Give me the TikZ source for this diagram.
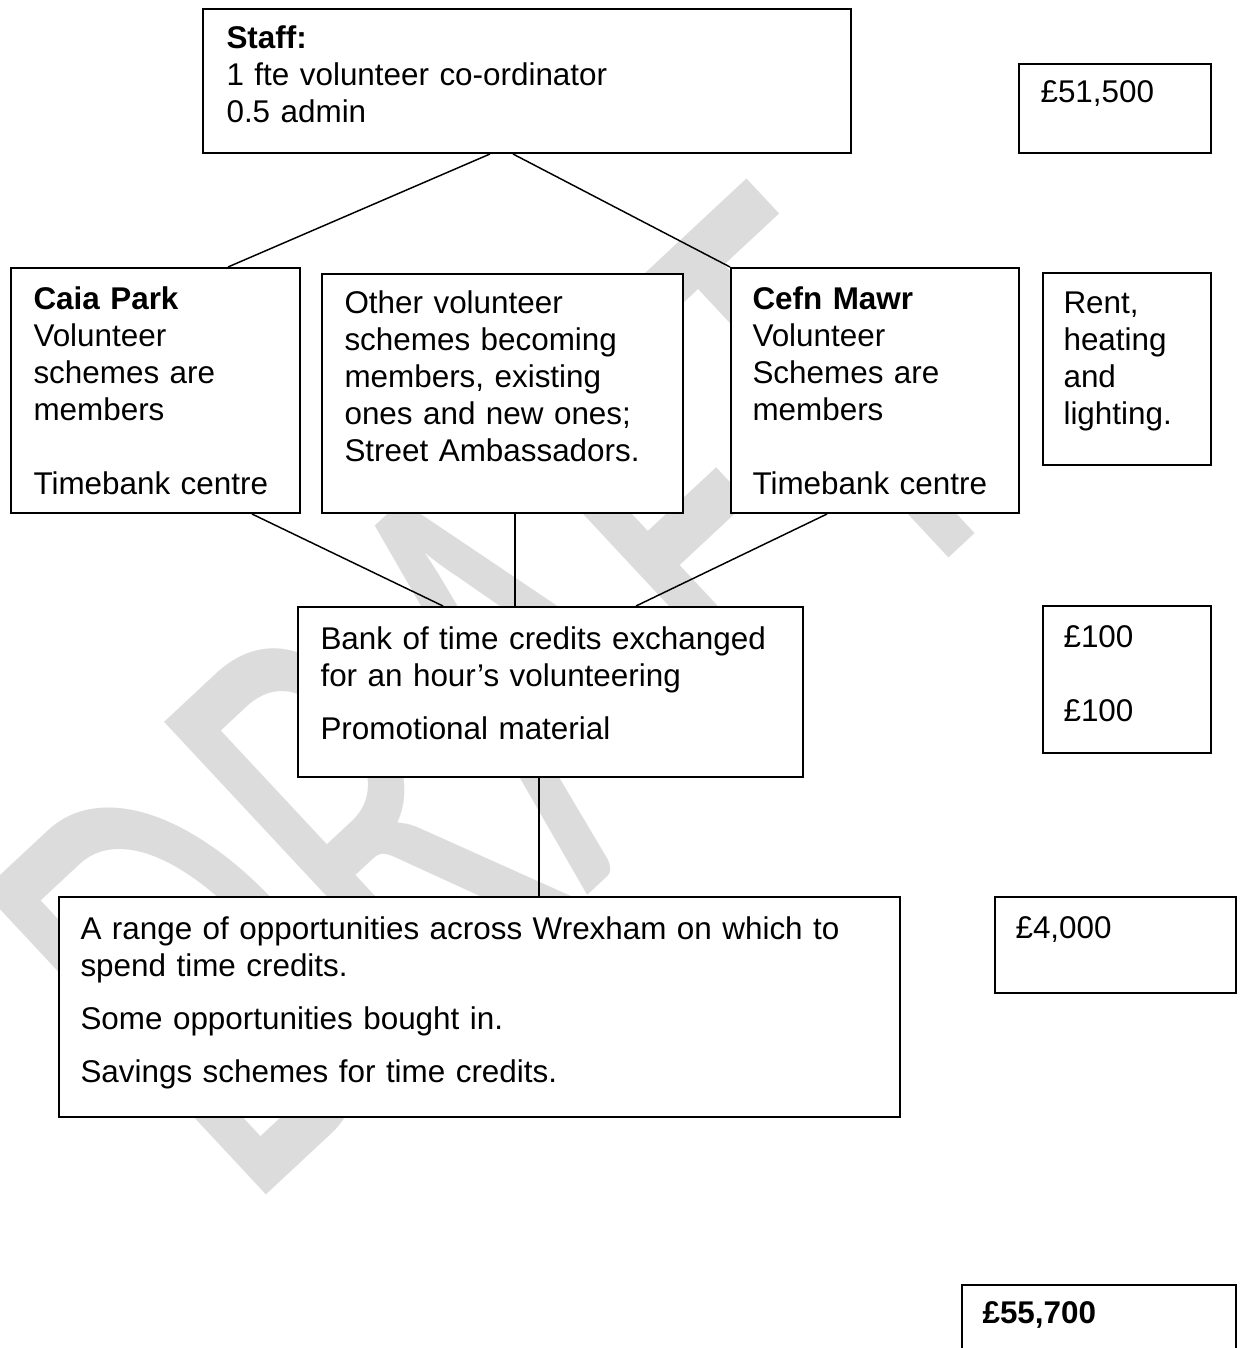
\documentclass[tikz,border=0pt]{standalone}
\usepackage{graphicx}
\usepackage{fontspec}
\setmainfont{Liberation Sans}
\newfontfamily\wmfont{Carlito}
\usetikzlibrary{fit}
\definecolor{wmgray}{RGB}{220,220,220}
\begin{document}
\begin{tikzpicture}[x=0.375pt,y=-0.375pt,
  box/.style={draw=black,line width=0.75pt,fill=white,rectangle,inner sep=0pt},
  txt/.style={anchor=base west,inner sep=0pt,align=left,text width=#1,
    font=\fontsize{11.78}{13.875}\selectfont},
  link/.style={draw=black,line width=0.55pt},
  wmark/.style={rotate=43,anchor=base west,inner sep=0pt,text=wmgray,
    font=\wmfont\fontsize{150.4}{150}\selectfont}]
\clip (0,0) rectangle (1243,1348);
\fill[white] (0,0) rectangle (1243,1348);
% watermark
\node[wmark] (wm) at (246,1214) {\scalebox{1}[1.613]{DRAFT}};
% boxes
\node[box,fit={(203,9) (851,153)}] (staff) {};
\node[box,fit={(1019,64) (1211,153)}] (c515) {};
\node[box,fit={(11,268) (300,513)}] (caia) {};
\node[box,fit={(322,274) (683,513)}] (other) {};
\node[box,fit={(731,268) (1019,513)}] (cefn) {};
\node[box,fit={(1043,273) (1211,465)}] (rent) {};
\node[box,fit={(298,607) (803,777)}] (bank) {};
\node[box,fit={(1043,606) (1211,753)}] (c100) {};
\node[box,fit={(59,897) (900,1117)}] (range) {};
\node[box,fit={(995,897) (1236,993)}] (c4000) {};
\node[box,fit={(962,1285) (1236,1370)}] (total) {};
% texts
\node[txt=234pt] (staffT) at (226,49) {\textbf{Staff:}\\1 fte volunteer co-ordinator\\0.5 admin};
\node[txt=64pt] (c515T) at (1040,103) {£51,500};
\node[txt=100pt] (caiaT) at (33,309) {\textbf{Caia Park}\\Volunteer\\schemes are\\members\\[13.875pt]Timebank centre};
\node[txt=127pt] (otherT) at (344,313) {Other volunteer\\schemes becoming\\members, existing\\ones and new ones;\\Street Ambassadors.};
\node[txt=100pt] (cefnT) at (752,309) {\textbf{Cefn Mawr}\\Volunteer\\Schemes are\\members\\[13.875pt]Timebank centre};
\node[txt=55pt] (rentT) at (1063,313) {Rent,\\heating\\and\\lighting.};
\node[txt=181pt] (bankT) at (320,649) {Bank of time credits exchanged\\for an hour’s volunteering\\[6pt]Promotional material};
\node[txt=55pt] (c100T) at (1063,647) {£100\\[13.875pt]£100};
\node[txt=307pt] (rangeT) at (80,939) {A range of opportunities across Wrexham on which to\\spend time credits.\\[6pt]Some opportunities bought in.\\[6pt]Savings schemes for time credits.};
\node[txt=82pt] (c4000T) at (1015,938) {£4,000};
\node[txt=95pt] (totalT) at (982,1323) {\textbf{£55,700}};
% connectors
\draw[link] (490,0 |- staff.south) -- (228,0 |- caia.north);
\draw[link] (513,0 |- staff.south) -- (cefn.north west);
\draw[link] (252,0 |- caia.south) -- (443,0 |- bank.north);
\draw[link] (515,0 |- other.south) -- (515,0 |- bank.north);
\draw[link] (827,0 |- cefn.south) -- (636,0 |- bank.north);
\draw[link] (539,0 |- bank.south) -- (539,0 |- range.north);
\end{tikzpicture}
\end{document}
